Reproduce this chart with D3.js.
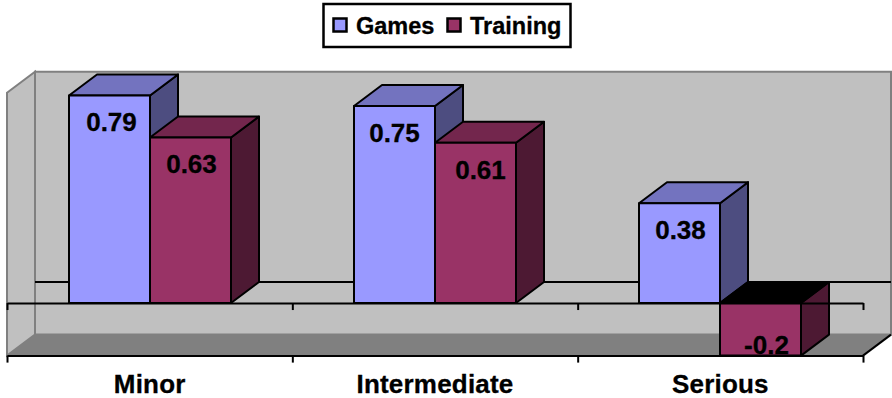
<!DOCTYPE html>
<html>
<head>
<meta charset="utf-8">
<script src="https://cdn.jsdelivr.net/npm/d3@7/dist/d3.min.js"></script>
<style>
  html, body { margin: 0; padding: 0; background: #fff; }
  svg { display: block; }
  text { font-family: "Liberation Sans", Arial, sans-serif; font-weight: bold; fill: #000; stroke: #000; stroke-width: 0.3px; }
</style>
</head>
<body>
<svg id="chart" width="892" height="398"></svg>
<script>
const categories = ["Minor", "Intermediate", "Serious"];
const seriesNames = ["Games", "Training"];
const games = [0.79, 0.75, 0.38];
const training = [0.63, 0.61, -0.2];
const seriesValues = [games, training];

const frontColors = ["#9999ff", "#993366"];
const topColors = ["#7373bf", "#73264d"];
const sideColors = ["#4d4d80", "#4d1933"];

const svg = d3.select("#chart");
const depthX = 28, depthY = -21;
const left = 7, right = 863;

const y = d3.scaleLinear().domain([-0.2, 0.8]).range([355.6, 92.8]);
const x = d3.scaleBand().domain(categories).range([left, right]);
const xBars = d3.scaleBand().domain(categories).range([left + 0.5, right - 0.5]);
const xSeries = d3.scaleBand().domain(d3.range(seriesNames.length)).range([61.5, 223.5]);
const poly = pts => pts.map(p => p.join(",")).join(" ");

// Back wall, side wall and floor of the 3D box
const yTop = y(0.8), yBottom = y(-0.2), yZero = y(0);
svg.append("polygon")
  .attr("points", poly([[left, yTop], [left + depthX, yTop + depthY], [left + depthX, yBottom + depthY], [left, yBottom]]))
  .attr("fill", "#c0c0c0").attr("stroke", "#808080").attr("stroke-width", 2);
svg.append("polygon")
  .attr("points", poly([[left + depthX, yTop + depthY], [right + depthX, yTop + depthY], [right + depthX, yBottom + depthY], [left + depthX, yBottom + depthY]]))
  .attr("fill", "#c0c0c0").attr("stroke", "#808080").attr("stroke-width", 2);
svg.append("polygon")
  .attr("points", poly([[left, yBottom], [left + depthX, yBottom + depthY], [right + depthX, yBottom + depthY], [right, yBottom]]))
  .attr("fill", "#808080");
svg.append("line")
  .attr("x1", right).attr("y1", yBottom)
  .attr("x2", right + depthX).attr("y2", yBottom + depthY)
  .attr("stroke", "#000").attr("stroke-width", 2);

// Zero line where it meets the back wall
svg.append("line")
  .attr("x1", left + depthX).attr("x2", right + depthX)
  .attr("y1", yZero + depthY).attr("y2", yZero + depthY)
  .attr("stroke", "#000").attr("stroke-width", 2);

// Bars, each with a front, top and side face
categories.forEach(cat => {
  seriesValues.forEach((values, s) => {
    const v = values[categories.indexOf(cat)];
    const x0 = xBars(cat) + xSeries(s), x1 = x0 + xSeries.bandwidth();
    const yA = y(Math.max(v, 0)), yB = y(Math.min(v, 0));
    const g = svg.append("g").attr("stroke", "#000").attr("stroke-width", 2).attr("stroke-linejoin", "round");
    g.append("polygon")
      .attr("points", poly([[x1, yA], [x1 + depthX, yA + depthY], [x1 + depthX, yB + depthY], [x1, yB]]))
      .attr("fill", sideColors[s]);
    g.append("polygon")
      .attr("points", poly([[x0, yA], [x0 + depthX, yA + depthY], [x1 + depthX, yA + depthY], [x1, yA]]))
      .attr("fill", v < 0 ? "#000" : topColors[s]);
    g.append("rect")
      .attr("x", x0).attr("y", yA)
      .attr("width", x1 - x0).attr("height", yB - yA)
      .attr("fill", frontColors[s]);
  });
});

// Front axis lines: one at zero and one along the floor edge
const edgeScale = d3.scaleLinear().domain([0, categories.length]).range([left, right]);
const edgeAxis = d3.axisBottom(edgeScale)
  .tickValues(d3.range(categories.length + 1))
  .tickFormat("")
  .tickSizeOuter(0)
  .tickSizeInner(7);
[yZero, yBottom].forEach(py => {
  const a = svg.append("g").attr("transform", `translate(0,${py})`).call(edgeAxis);
  a.selectAll("path,line").attr("stroke", "#000").attr("stroke-width", 2);
});

// Category labels
const catAxis = d3.axisBottom(x).tickSize(0).tickPadding(0);
const catG = svg.append("g").attr("transform", "translate(0,392.5)").call(catAxis);
catG.select(".domain").remove();
catG.attr("font-family", null);
catG.selectAll("text")
  .style("font-size", "26px")
  .style("letter-spacing", "0.2px")
  .attr("dy", 0);

// Value labels, with small per-label shifts from the bar centre
const labelShift = [[2, 1], [0, 5], [1, 6]];
categories.forEach((cat, i) => {
  seriesValues.forEach((values, s) => {
    const v = values[i];
    const cx = xBars(cat) + xSeries(s) + xSeries.bandwidth() / 2;
    svg.append("text")
      .attr("x", cx + labelShift[i][s])
      .attr("y", v < 0 ? y(v) - 1.5 : y(v) + 36)
      .attr("text-anchor", "middle")
      .style("font-size", "26px")
      .text(v);
  });
});

// Legend
const legend = svg.append("g");
legend.append("rect")
  .attr("x", 323.5).attr("y", 4).attr("width", 247).attr("height", 43)
  .attr("fill", "#fff").attr("stroke", "#000").attr("stroke-width", 2.5);
const legendX = d3.scaleOrdinal().domain(seriesNames).range([333.5, 447.5]);
seriesNames.forEach((name, s) => {
  legend.append("rect")
    .attr("x", legendX(name)).attr("y", 18.5).attr("width", 13).attr("height", 13)
    .attr("fill", frontColors[s]).attr("stroke", "#000").attr("stroke-width", 2.5);
  legend.append("text")
    .attr("x", legendX(name) + 22.5).attr("y", 34)
    .style("font-size", "23.5px")
    .text(name);
});
</script>
</body>
</html>
